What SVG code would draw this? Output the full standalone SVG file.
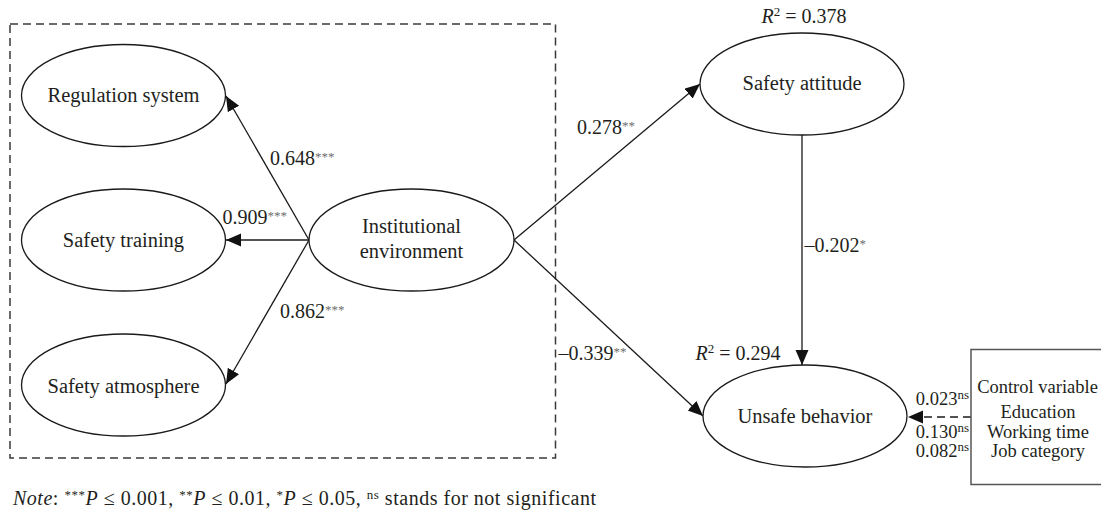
<svg xmlns="http://www.w3.org/2000/svg" width="1101" height="513" viewBox="0 0 1101 513">
<style>
  .node { fill: #fff; stroke: #1a1a1a; stroke-width: 1.3; }
  .t { font-family: "Liberation Serif", "Times New Roman", serif; fill: #231f20; }
  .nt { font-size: 20.5px; text-anchor: middle; }
  .lb { font-size: 20px; }
  .cv { font-size: 18.5px; }
  .sm { font-size: 18.5px; text-anchor: middle; }
  .star { font-size: 13px; fill: #6d6d6d; }
  .sup { font-size: 13px; }
  .edge { stroke: #1a1a1a; stroke-width: 1.3; fill: none; }
</style>
<defs>
  <marker id="ah" markerUnits="userSpaceOnUse" markerWidth="16" markerHeight="14" refX="15" refY="6.5" orient="auto">
    <path d="M0,0 L15,6.5 L0,13 Z" fill="#111"/>
  </marker>
</defs>
<rect id="group-box" x="10" y="24" width="545.5" height="434" fill="none" stroke="#3a3a3a" stroke-width="1.5" stroke-dasharray="8,5"/>
<g id="connectors">
  <line class="edge" x1="309" y1="240" x2="226" y2="96" marker-end="url(#ah)"/>
  <line class="edge" x1="309" y1="240" x2="226" y2="240" marker-end="url(#ah)"/>
  <line class="edge" x1="309" y1="240" x2="226" y2="384" marker-end="url(#ah)"/>
  <line class="edge" x1="514" y1="240" x2="700" y2="84" marker-end="url(#ah)"/>
  <line class="edge" x1="514" y1="240" x2="703" y2="416" marker-end="url(#ah)"/>
  <line class="edge" x1="802" y1="135" x2="802" y2="365" marker-end="url(#ah)"/>
  <line class="edge" x1="971" y1="417" x2="908" y2="417" stroke-dasharray="8,5" marker-end="url(#ah)"/>
</g>
<g id="regulation-system">
  <ellipse class="node" cx="123.5" cy="95.5" rx="102" ry="51"/>
  <text class="t nt" x="123.5" y="102">Regulation system</text>
</g>
<g id="safety-training">
  <ellipse class="node" cx="123.5" cy="240" rx="102" ry="51"/>
  <text class="t nt" x="123.5" y="246.5">Safety training</text>
</g>
<g id="safety-atmosphere">
  <ellipse class="node" cx="123.5" cy="385" rx="102" ry="51"/>
  <text class="t nt" x="123.5" y="392.5">Safety atmosphere</text>
</g>
<g id="institutional-environment">
  <ellipse class="node" cx="411.5" cy="240" rx="102.5" ry="51"/>
  <text class="t nt" x="411.5" y="233">Institutional</text>
  <text class="t nt" x="411.5" y="258">environment</text>
</g>
<g id="safety-attitude">
  <ellipse class="node" cx="802" cy="84" rx="102" ry="51"/>
  <text class="t nt" x="802" y="90">Safety attitude</text>
  <text class="t lb" x="804" y="23" text-anchor="middle"><tspan font-style="italic">R</tspan><tspan class="sup" dy="-7">2</tspan><tspan dy="7"> = 0.378</tspan></text>
</g>
<g id="unsafe-behavior">
  <ellipse class="node" cx="805" cy="416" rx="102" ry="51"/>
  <text class="t nt" x="805" y="422.5">Unsafe behavior</text>
  <text class="t lb" x="738" y="360" text-anchor="middle"><tspan font-style="italic">R</tspan><tspan class="sup" dy="-7">2</tspan><tspan dy="7"> = 0.294</tspan></text>
</g>
<g id="control-variable">
  <rect x="971" y="349.5" width="140" height="135" fill="#fff" stroke="#555" stroke-width="1.5"/>
  <text class="t sm" x="1037.5" y="392.5">Control variable</text>
  <text class="t sm" x="1038" y="417.5">Education</text>
  <text class="t sm" x="1038" y="437.5">Working time</text>
  <text class="t sm" x="1038" y="456.5">Job category</text>
</g>
<g id="edge-labels">
  <text class="t lb" x="270" y="165">0.648<tspan class="star" dy="-4">***</tspan></text>
  <text class="t lb" x="222.5" y="224">0.909<tspan class="star" dy="-4">***</tspan></text>
  <text class="t lb" x="280" y="317.5">0.862<tspan class="star" dy="-4">***</tspan></text>
  <text class="t lb" x="577" y="133.5">0.278<tspan class="star" dy="-4">**</tspan></text>
  <text class="t lb" x="804.5" y="251.5">–0.202<tspan class="star" dy="-4">*</tspan></text>
  <text class="t lb" x="558.5" y="359.5">–0.339<tspan class="star" dy="-4">**</tspan></text>
  <text class="t cv" x="969" y="404.5" text-anchor="end">0.023<tspan class="sup" dy="-6">ns</tspan></text>
  <text class="t cv" x="969" y="437.5" text-anchor="end">0.130<tspan class="sup" dy="-6">ns</tspan></text>
  <text class="t cv" x="969" y="456.5" text-anchor="end">0.082<tspan class="sup" dy="-6">ns</tspan></text>
</g>
<text id="note" class="t" x="13" y="504.5" font-size="20px" textLength="583" lengthAdjust="spacing"><tspan font-style="italic">Note</tspan>: <tspan class="sup" dy="-6">***</tspan><tspan dy="6" font-style="italic">P</tspan> ≤ 0.001, <tspan class="sup" dy="-6">**</tspan><tspan dy="6" font-style="italic">P</tspan> ≤ 0.01, <tspan class="sup" dy="-6">*</tspan><tspan dy="6" font-style="italic">P</tspan> ≤ 0.05, <tspan class="sup" dy="-6">ns</tspan><tspan dy="6"> stands for not significant</tspan></text>
</svg>
